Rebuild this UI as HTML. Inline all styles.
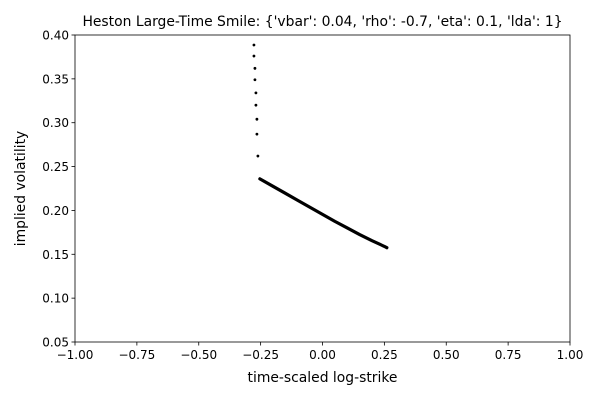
<!DOCTYPE html>
<html><head><meta charset="utf-8"><style>
body{margin:0;background:#fff}
svg{display:block;font-family:"DejaVu Sans","Liberation Sans",sans-serif}
</style></head><body>
<svg id="chart" width="600" height="400">
<rect width="600" height="400" fill="#fff"/>
<g id="plot"></g>
</svg>
<script>
const xTicks=[-1.00,-0.75,-0.50,-0.25,0.00,0.25,0.50,0.75,1.00];
const yTicks=[0.05,0.10,0.15,0.20,0.25,0.30,0.35,0.40];
const scatterK=[-0.277,-0.277,-0.273,-0.273,-0.269,-0.269,-0.265,-0.265,-0.261];
const scatterV=[0.3886,0.376,0.362,0.349,0.334,0.320,0.304,0.287,0.262];
const lineK=[-0.253,-0.2,-0.15,-0.1,-0.05,0,0.05,0.1,0.15,0.2,0.25,0.26];
const lineV=[0.236,0.2275,0.2195,0.2115,0.2035,0.1955,0.1875,0.1800,0.1725,0.1655,0.159,0.1575];
const L=75,R=570,T=35,B=342,xmin=-1,xmax=1,ymin=0.05,ymax=0.40;
const X=v=>L+(v-xmin)/(xmax-xmin)*(R-L);
const Y=v=>B-(v-ymin)/(ymax-ymin)*(B-T);
const NS='http://www.w3.org/2000/svg';
const g=document.getElementById('plot');
function mk(t,a,txt){const e=document.createElementNS(NS,t);for(const k in a)e.setAttribute(k,a[k]);if(txt!==undefined)e.textContent=txt;g.appendChild(e);return e;}
const fmt2=v=>v<0?'\u2212'+Math.abs(v).toFixed(2):v.toFixed(2);
xTicks.forEach(v=>{
 const t=mk('line',{x1:X(v),x2:X(v),y1:B,y2:B+3.5,stroke:'#000','stroke-width':0.8});
 
 
 const l=mk('text',{x:X(v),y:B+17,'font-size':12,'text-anchor':'middle'},fmt2(v));
 
 
});
yTicks.forEach(v=>{
 const t=mk('line',{x1:L-3.5,x2:L,y1:Y(v),y2:Y(v),stroke:'#000','stroke-width':0.8});
 
 
 const l=mk('text',{x:L-6,y:Y(v)+4.5,'font-size':12,'text-anchor':'end'},v.toFixed(2));
 
 
});
scatterK.forEach((k,i)=>{
 const c=mk('circle',{cx:X(k),cy:Y(scatterV[i]),r:1.4,fill:'#000'});
 
 
});
const pl=mk('polyline',{points:lineK.map((k,i)=>X(k)+','+Y(lineV[i])).join(' '),fill:'none',stroke:'#000','stroke-width':3.2,'stroke-linecap':'round','stroke-linejoin':'round'});


const fr=mk('rect',{x:L,y:T,width:R-L,height:B-T,fill:'none',stroke:'#000','stroke-width':0.8});


const ti=mk('text',{x:(L+R)/2,y:26,'font-size':13.9,'text-anchor':'middle'},"Heston Large-Time Smile: {'vbar': 0.04, 'rho': -0.7, 'eta': 0.1, 'lda': 1}");


const xl=mk('text',{x:(L+R)/2,y:382,'font-size':13.9,'text-anchor':'middle'},'time-scaled log-strike');


const yl=mk('text',{x:0,y:0,'font-size':13.9,'text-anchor':'middle',transform:'translate(25,'+((T+B)/2)+') rotate(-90)'},'implied volatility');


</script>
</body></html>
